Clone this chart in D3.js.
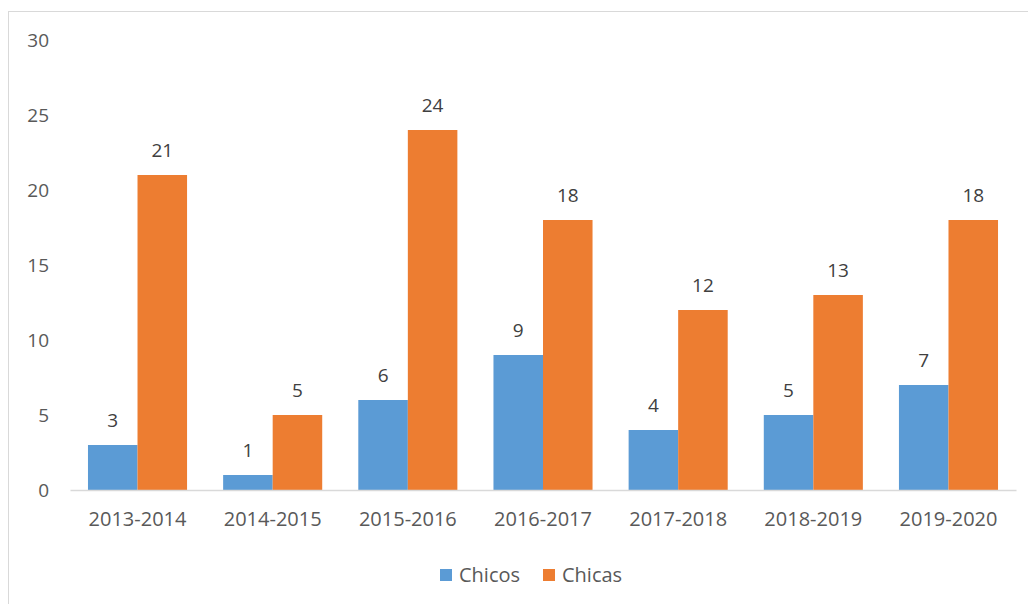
<!DOCTYPE html>
<html>
<head>
<meta charset="utf-8">
<script src="https://cdn.jsdelivr.net/npm/d3@7"></script>
<style>
  body { margin: 0; background: #fff; }
  svg text { font-family: "Open Sans", "Liberation Sans", sans-serif; }
</style>
</head>
<body>
<svg id="chart" width="1028" height="604"></svg>
<script>
const years = ["2013-2014", "2014-2015", "2015-2016", "2016-2017", "2017-2018", "2018-2019", "2019-2020"];
const chicos = [3, 1, 6, 9, 4, 5, 7];
const chicas = [21, 5, 24, 18, 12, 13, 18];
const seriesNames = ["Chicos", "Chicas"];
const yTicks = [0, 5, 10, 15, 20, 25, 30];

let svg = d3.select("#chart");

// chart frame
svg.append("rect")
  .attr("x", 8.5)
  .attr("y", 11.5)
  .attr("width", 1030)
  .attr("height", 610)
  .attr("fill", "none")
  .attr("stroke", "#d9d9d9");

let margin = { top: 40, left: 70, right: 12, bottom: 114 };
let width = 1028 - margin.left - margin.right;
let height = 604 - margin.top - margin.bottom;

let g = svg.append("g")
  .attr("transform", "translate(" + margin.left + "," + margin.top + ")");

let data = years.map((y, i) => ({ key: y, Chicos: chicos[i], Chicas: chicas[i] }));

let x0 = d3.scaleBand().domain(years).range([0, width]).paddingInner(0.267).paddingOuter(0.133);
let x1 = d3.scaleBand().domain(seriesNames).range([0, x0.bandwidth()]);
let y = d3.scaleLinear().domain([0, 30]).range([height, 0]);
let z = d3.scaleOrdinal().domain(seriesNames).range(["#5b9bd5", "#ed7d31"]);

// bars
let groups = g.append("g")
  .selectAll("g")
  .data(data)
  .enter()
  .append("g")
  .attr("transform", (d) => "translate(" + x0(d.key) + ",0)");

groups.selectAll("rect")
  .data((d) => seriesNames.map((key) => ({ key: key, value: d[key] })))
  .enter()
  .append("rect")
  .attr("x", (d) => x1(d.key))
  .attr("y", (d) => y(d.value))
  .attr("width", x1.bandwidth())
  .attr("height", (d) => height - y(d.value))
  .attr("fill", (d) => z(d.key));

// value labels
groups.selectAll("text")
  .data((d) => seriesNames.map((key) => ({ key: key, value: d[key] })))
  .enter()
  .append("text")
  .attr("x", (d) => x1(d.key) + x1.bandwidth() / 2)
  .attr("y", (d) => y(d.value) - 18)
  .attr("text-anchor", "middle")
  .style("font-size", "19px")
  .attr("fill", "#404040")
  .text((d) => d.value);

// x axis
let xAxis = g.append("g")
  .attr("transform", "translate(0," + height + ")")
  .call(d3.axisBottom(x0).tickSize(0).tickPadding(22));
xAxis.select(".domain").attr("stroke", "#d9d9d9").attr("stroke-width", 1.5);
xAxis.selectAll("text")
  .style("font-size", "20px")
  .attr("fill", "#595959");

// y axis (labels only)
let yAxis = g.append("g")
  .call(d3.axisLeft(y).tickValues(yTicks).tickSize(0).tickPadding(21));
yAxis.select(".domain").remove();
yAxis.selectAll("text")
  .style("font-size", "19px")
  .attr("fill", "#595959");

// legend
let legend = svg.append("g")
  .attr("transform", "translate(440, 575)");

let legendItems = legend.selectAll("g")
  .data(seriesNames)
  .enter()
  .append("g")
  .attr("transform", (d, i) => "translate(" + i * 103 + ",0)");

legendItems.append("rect")
  .attr("x", 0)
  .attr("y", -6)
  .attr("width", 12)
  .attr("height", 12)
  .attr("fill", (d) => z(d));

legendItems.append("text")
  .attr("x", 19)
  .attr("y", 7)
  .style("font-size", "20px")
  .attr("fill", "#595959")
  .text((d) => d);
</script>
</body>
</html>
